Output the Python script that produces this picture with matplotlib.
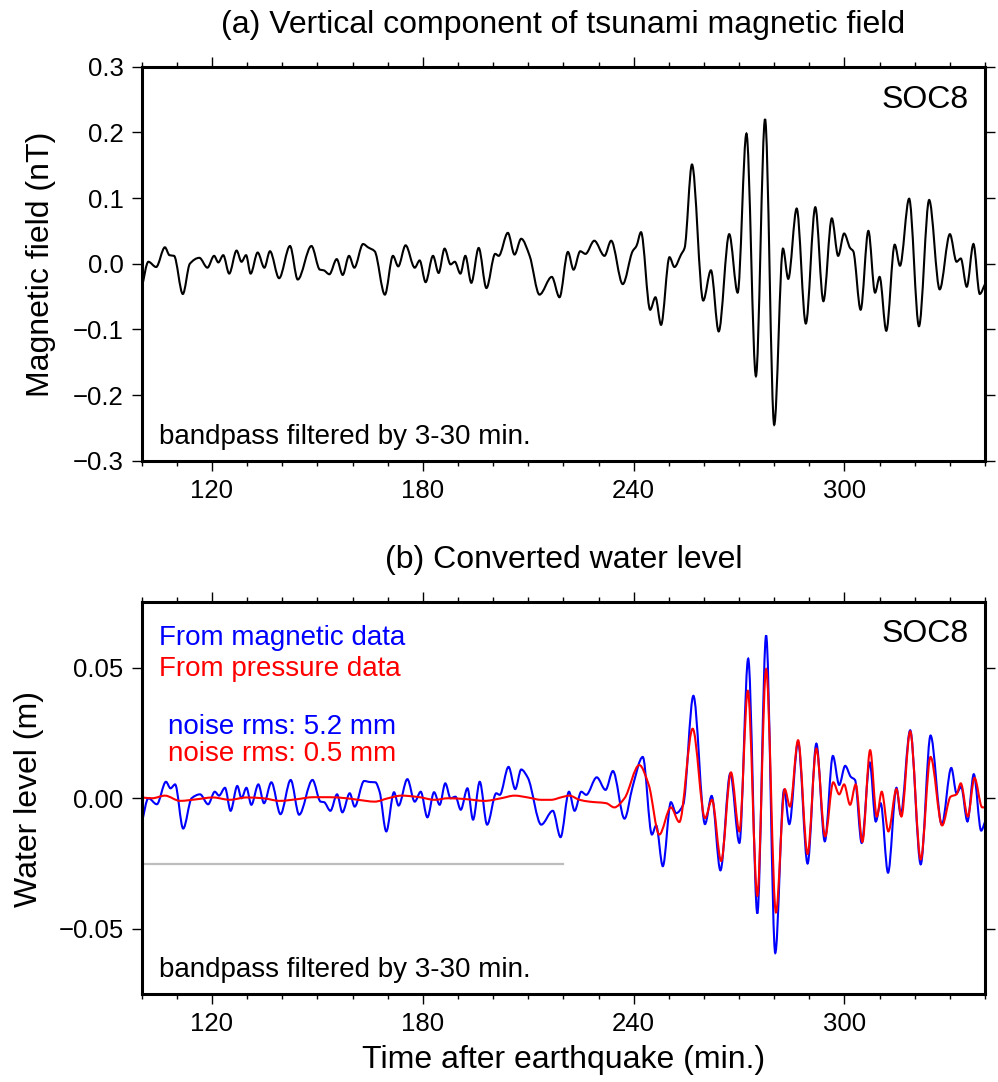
import numpy as np
import matplotlib.pyplot as plt
from matplotlib.path import Path
from matplotlib.patches import PathPatch

plt.rcParams['font.family'] = ['Liberation Sans', 'DejaVu Sans']

# (a) vertical magnetic field, nT  (turning points)
t_mag = [100.0, 101.9, 104.1, 106.6, 107.9, 109.2, 111.7, 113.7, 116.4, 118.7,
         120.6, 121.8, 123.2, 124.9, 127.0, 128.4, 129.7, 131.0, 133.0, 134.9,
         136.5, 139.1, 142.2, 144.4, 148.3, 150.7, 151.8, 153.4, 155.5, 157.2,
         159.0, 160.5, 163.0, 164.4, 166.3, 169.2, 171.5, 173.0, 175.1, 177.7,
         179.1, 180.8, 182.9, 184.5, 186.2, 187.9, 189.1, 190.7, 192.1, 193.8,
         195.9, 198.1, 200.6, 201.6, 204.2, 206.1, 208.0, 210.4, 213.2, 216.7,
         218.9, 221.3, 222.9, 224.8, 226.3, 228.8, 231.7, 233.6, 236.9, 239.7,
         240.8, 242.1, 244.7, 246.2, 247.8, 250.2, 251.6, 253.5, 254.5, 256.6,
         259.8, 262.0, 264.2, 267.2, 269.6, 272.1, 274.8, 277.4, 280.0, 282.5,
         284.0, 286.4, 289.0, 291.7, 294.0, 296.4, 298.2, 299.9, 301.6, 302.5,
         304.6, 306.8, 308.7, 310.0, 311.9, 314.3, 315.8, 318.4, 321.2, 324.1,
         327.1, 330.0, 331.9, 333.1, 334.8, 336.7, 338.5, 340.0]
bz_mag = [-0.037, 0.003, -0.005, 0.025, 0.013, 0.012, -0.046, 0.000, 0.009, -0.006,
          0.012, 0.002, 0.013, -0.015, 0.020, 0.003, 0.013, -0.015, 0.017, -0.006,
          0.019, -0.022, 0.027, -0.024, 0.027, -0.009, -0.010, -0.016, 0.007, -0.017,
          0.012, -0.006, 0.030, 0.025, 0.019, -0.047, 0.012, -0.004, 0.028, -0.006,
          0.005, -0.028, 0.012, -0.014, 0.023, -0.001, 0.003, -0.015, 0.012, -0.029,
          0.024, -0.037, 0.015, 0.012, 0.047, 0.014, 0.038, 0.012, -0.047, -0.020,
          -0.051, 0.018, -0.009, 0.019, 0.015, 0.035, 0.012, 0.035, -0.031, 0.019,
          0.027, 0.048, -0.070, -0.051, -0.093, 0.010, -0.005, 0.014, 0.024, 0.151,
          -0.056, -0.010, -0.103, 0.045, -0.044, 0.198, -0.171, 0.220, -0.245, 0.023,
          -0.023, 0.084, -0.091, 0.086, -0.057, 0.069, 0.012, 0.046, 0.024, 0.019,
          -0.070, 0.050, -0.044, -0.020, -0.102, 0.029, -0.003, 0.099, -0.095, 0.097,
          -0.039, 0.045, 0.003, 0.008, -0.035, 0.030, -0.046, -0.031]

# (b) water level from magnetic data, m
t_wl_mag = [100.0, 101.9, 104.3, 106.9, 108.2, 109.5, 111.8, 114.2, 116.6, 118.9,
            120.8, 122.0, 123.7, 125.3, 127.2, 128.4, 129.8, 131.2, 133.2, 134.8,
            136.9, 139.5, 142.4, 144.8, 148.6, 150.9, 151.9, 153.7, 155.6, 157.1,
            159.2, 160.6, 163.3, 165.0, 166.5, 167.7, 169.6, 171.8, 173.1, 175.6,
            177.7, 179.4, 181.3, 183.2, 184.8, 186.4, 187.9, 189.3, 190.8, 192.7,
            194.3, 196.2, 198.3, 200.9, 201.9, 204.4, 206.3, 208.0, 209.9, 213.7,
            217.0, 219.2, 221.6, 223.2, 225.1, 226.5, 229.5, 232.0, 234.1, 237.4,
            239.7, 242.6, 245.2, 246.4, 248.3, 250.6, 252.1, 254.1, 257.0, 260.3,
            262.2, 264.7, 267.5, 270.1, 272.6, 275.2, 277.7, 280.3, 282.8, 284.3,
            286.8, 289.5, 292.0, 294.4, 296.7, 298.5, 300.2, 301.8, 303.0, 304.9,
            307.2, 308.9, 310.3, 312.4, 314.8, 316.0, 318.7, 321.7, 324.5, 327.7,
            330.4, 331.9, 333.2, 335.0, 336.8, 338.9, 340.0]
wl_mag = [-0.0095, 0.0000, -0.0023, 0.0063, 0.0038, 0.0053, -0.0116, 0.0000, 0.0015, -0.0023,
          0.0025, 0.0010, 0.0040, -0.0048, 0.0047, 0.0000, 0.0040, -0.0025, 0.0053, -0.0019,
          0.0061, -0.0061, 0.0070, -0.0063, 0.0070, -0.0013, -0.0015, -0.0048, 0.0015, -0.0054,
          0.0019, -0.0032, 0.0066, 0.0062, 0.0061, 0.0025, -0.0127, 0.0023, -0.0028, 0.0073,
          -0.0013, 0.0025, -0.0073, 0.0023, -0.0025, 0.0057, 0.0000, 0.0006, -0.0044, 0.0038,
          -0.0082, 0.0063, -0.0101, 0.0019, 0.0013, 0.0120, 0.0035, 0.0110, 0.0078, -0.0101,
          -0.0048, -0.0149, 0.0025, -0.0048, 0.0025, 0.0013, 0.0080, 0.0032, 0.0104, -0.0078,
          0.0044, 0.0158, -0.0139, -0.0104, -0.0260, -0.0015, -0.0057, -0.0025, 0.0392, -0.0099,
          0.0009, -0.0276, 0.0095, -0.0171, 0.0534, -0.0441, 0.0623, -0.0592, 0.0032, -0.0099,
          0.0215, -0.0250, 0.0209, -0.0165, 0.0162, 0.0051, 0.0124, 0.0082, 0.0070, -0.0171,
          0.0137, -0.0089, -0.0019, -0.0285, 0.0040, -0.0063, 0.0260, -0.0253, 0.0240, -0.0101,
          0.0116, 0.0019, 0.0044, -0.0089, 0.0092, -0.0124, -0.0090]

# (b) water level from pressure data, m
t_wl_prs = [100.0, 103.0, 106.6, 110.9, 115.6, 120.3, 125.0, 129.8, 134.5, 139.3,
            144.0, 148.8, 153.5, 158.2, 161.6, 166.3, 170.1, 173.9, 178.6, 183.4,
            187.2, 191.9, 197.6, 202.3, 206.1, 209.9, 213.7, 216.5, 219.5, 221.7,
            224.6, 227.4, 232.2, 234.5, 237.4, 241.6, 244.3, 247.3, 250.6, 253.0,
            256.8, 260.3, 262.3, 264.9, 267.7, 270.1, 272.5, 275.2, 277.7, 280.5,
            283.0, 284.5, 286.8, 289.5, 292.0, 294.5, 296.8, 298.5, 299.9, 301.6,
            303.2, 305.1, 307.3, 309.2, 310.6, 312.5, 314.8, 316.2, 318.7, 321.7,
            324.5, 327.8, 330.2, 331.9, 333.1, 335.1, 337.0, 339.2, 340.0]
wl_prs = [0.0003, 0.0000, 0.0010, -0.0010, -0.0004, 0.0003, -0.0006, 0.0003, 0.0000, -0.0010,
          -0.0004, 0.0004, 0.0004, 0.0000, -0.0006, -0.0013, 0.0000, 0.0010, 0.0005, -0.0006,
          0.0000, -0.0003, -0.0010, 0.0000, 0.0010, 0.0003, -0.0006, -0.0006, 0.0004, 0.0010,
          -0.0006, -0.0013, -0.0019, -0.0035, 0.0000, 0.0127, 0.0051, -0.0139, -0.0035, -0.0091,
          0.0266, -0.0076, -0.0006, -0.0240, 0.0099, -0.0127, 0.0411, -0.0373, 0.0494, -0.0437,
          0.0035, -0.0032, 0.0222, -0.0213, 0.0190, -0.0146, 0.0061, 0.0015, 0.0053, -0.0025,
          0.0053, -0.0167, 0.0184, -0.0070, 0.0025, -0.0127, 0.0035, -0.0070, 0.0256, -0.0234,
          0.0158, -0.0104, 0.0006, 0.0015, 0.0057, -0.0070, 0.0078, -0.0035, -0.0035]

noise_window = [100, 220]
noise_mark = -0.025

x_major = [120, 180, 240, 300]
y_ticks_a = [-0.3, -0.2, -0.1, 0.0, 0.1, 0.2, 0.3]
y_labels_a = ['\u22120.3', '\u22120.2', '\u22120.1', '0.0', '0.1', '0.2', '0.3']
y_ticks_b = [-0.05, 0.0, 0.05]
y_labels_b = ['\u22120.05', '0.00', '0.05']


def smooth_path(x, y):
    # monotone cubic through the read turning points, drawn as bezier segments
    x = np.asarray(x, float)
    y = np.asarray(y, float)
    h = np.diff(x)
    d = np.diff(y) / h
    m = np.zeros_like(y)
    m[0], m[-1] = d[0], d[-1]
    for k in range(1, len(x) - 1):
        if d[k - 1] * d[k] > 0:
            w1 = 2 * h[k] + h[k - 1]
            w2 = h[k] + 2 * h[k - 1]
            m[k] = (w1 + w2) / (w1 / d[k - 1] + w2 / d[k])
    verts = [(x[0], y[0])]
    codes = [Path.MOVETO]
    for k in range(len(x) - 1):
        verts += [(x[k] + h[k] / 3, y[k] + m[k] * h[k] / 3),
                  (x[k + 1] - h[k] / 3, y[k + 1] - m[k + 1] * h[k] / 3),
                  (x[k + 1], y[k + 1])]
        codes += [Path.CURVE4] * 3
    return Path(verts, codes)


def style(ax, yt, yl, ylim):
    ax.set_xlim(100, 340)
    ax.set_ylim(*ylim)
    ax.set_xticks(x_major)
    ax.set_xticks(np.arange(100, 341, 10), minor=True)
    ax.set_yticks(yt)
    ax.set_yticklabels(yl)
    for s in ax.spines.values():
        s.set_linewidth(2.2)
    ax.tick_params(which='both', direction='out', top=True, right=True, width=1.0)
    ax.tick_params(which='major', length=7, labelsize=18.5, pad=6)
    ax.tick_params(which='minor', length=3.5)


fig = plt.figure(figsize=(9.98, 10.82), dpi=100)
ax1 = fig.add_axes([0.142, 0.574, 0.845, 0.3645])
ax2 = fig.add_axes([0.142, 0.0811, 0.845, 0.3623])

style(ax1, y_ticks_a, y_labels_a, (-0.3, 0.3))
ax1.add_patch(PathPatch(smooth_path(t_mag, bz_mag), fill=False, edgecolor='black', lw=1.5))
ax1.text(0.5, 1.086, '(a) Vertical component of tsunami magnetic field', transform=ax1.transAxes,
         ha='center', va='baseline', fontsize=23)
ax1.text(0.98, 0.896, 'SOC8', transform=ax1.transAxes, ha='right', va='baseline', fontsize=23)
ax1.text(0.021, 0.042, 'bandpass filtered by 3-30 min.', transform=ax1.transAxes,
         ha='left', va='baseline', fontsize=20)

style(ax2, y_ticks_b, y_labels_b, (-0.075, 0.075))
ax2.plot(noise_window, [noise_mark, noise_mark], color='#bdbdbd', lw=1.6)
ax2.add_patch(PathPatch(smooth_path(t_wl_mag, wl_mag), fill=False, edgecolor='#0000ff', lw=1.5))
ax2.add_patch(PathPatch(smooth_path(t_wl_prs, wl_prs), fill=False, edgecolor='#ff0000', lw=1.5))
ax2.text(0.5, 1.0875, '(b) Converted water level', transform=ax2.transAxes,
         ha='center', va='baseline', fontsize=23)
ax2.text(0.98, 0.898, 'SOC8', transform=ax2.transAxes, ha='right', va='baseline', fontsize=23)
ax2.text(0.021, 0.891, 'From magnetic data', transform=ax2.transAxes, color='#0000ff', fontsize=20)
ax2.text(0.021, 0.813, 'From pressure data', transform=ax2.transAxes, color='#ff0000', fontsize=20)
ax2.text(0.0315, 0.663, 'noise rms: 5.2 mm', transform=ax2.transAxes, color='#0000ff', fontsize=20)
ax2.text(0.0315, 0.595, 'noise rms: 0.5 mm', transform=ax2.transAxes, color='#ff0000', fontsize=20)
ax2.text(0.021, 0.045, 'bandpass filtered by 3-30 min.', transform=ax2.transAxes,
         ha='left', va='baseline', fontsize=20)
ax2.set_xlabel('Time after earthquake (min.)', fontsize=23, labelpad=6)

fig.text(41 / 998, 0.756, 'Magnetic field (nT)', rotation=90, ha='center', va='center', fontsize=23)
fig.text(29 / 998, 0.2616, 'Water level (m)', rotation=90, ha='center', va='center', fontsize=23)

fig.savefig('out.png', dpi=100)
